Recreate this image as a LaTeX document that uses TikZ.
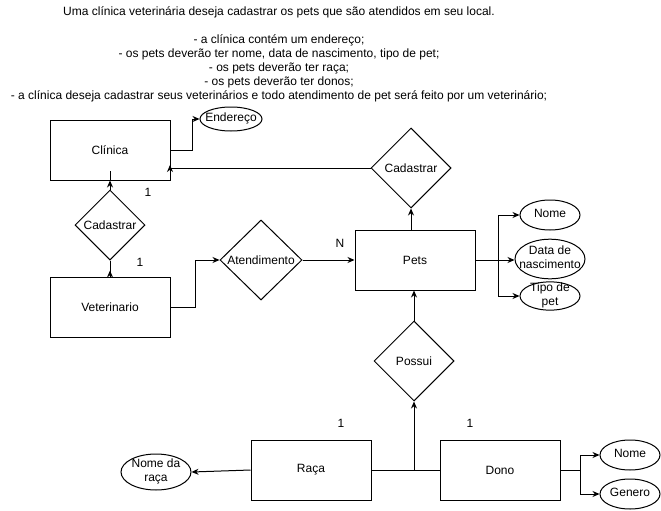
\documentclass[tikz,border=0pt]{standalone}
\usepackage{fontspec}
\setmainfont{Liberation Sans}
\usetikzlibrary{shapes.geometric,arrows.meta}
\tikzset{
	entidade/.style={draw, rectangle, minimum width=120pt, minimum height=60pt, inner sep=0pt},
	relacao/.style={draw, diamond, aspect=1, inner sep=0pt, minimum size=80pt},
	atributo/.style={draw, ellipse, inner sep=0pt, minimum width=60pt, minimum height=30pt},
	seta/.style={-{Stealth[length=7pt,width=6pt]}},
}
\newcommand{\attxt}[1]{\makebox[0pt]{\begin{tabular}{@{}c@{}}#1\end{tabular}}}
\begin{document}
\begin{tikzpicture}[x=1pt,y=-1pt,line width=1pt,every node/.style={font=\fontsize{12}{14}\selectfont}]
		\useasboundingbox (0,0) rectangle (661,511);
		\node[align=center](enun) at (279,54) {Uma clínica veterinária deseja cadastrar os pets que são atendidos em seu local.\\[14pt]
			- a clínica contém um endereço;\\
			- os pets deverão ter nome, data de nascimento, tipo de pet;\\
			- os pets deverão ter raça;\\
			- os pets deverão ter donos;\\
			- a clínica deseja cadastrar seus veterinários e todo atendimento de pet será feito por um veterinário;};
		% entidades
		\node[entidade](clin) at (110,150) {Clínica};
		\node[entidade](vet) at (110,307) {Veterinario};
		\node[entidade](pets) at (415,260) {Pets};
		\node[entidade](raca) at (311,470) {Raça};
		\node[entidade](dono) at (500,470) {Dono};
		% relacoes
		\node[relacao,minimum size=70pt](cad1) at (110,225) {Cadastrar};
		\node[relacao](cad2) at (411,168) {Cadastrar};
		\node[relacao,minimum width=82pt](aten) at (261,260) {Atendimento};
		\node[relacao](possui) at (414,361) {Possui};
		% atributos
		\node[atributo,minimum width=62pt,minimum height=24pt](ender) at (231,119) {\attxt{Endereço}};
		\node[atributo](pnome) at (550,215) {\attxt{Nome}};
		\node[atributo,minimum width=70pt,minimum height=39pt](pdata) at (550,259) {\attxt{Data de\\nascimento}};
		\node[atributo,minimum height=28pt,inner ysep=-4pt](ptipo) at (550,296) {\attxt{Tipo de\\pet}};
		\node[atributo,minimum width=70pt,minimum height=36pt,inner ysep=-1.5pt](nraca) at (156,472) {\attxt{Nome da\\raça}};
		\node[atributo](dnome) at (630,455) {\attxt{Nome}};
		\node[atributo](dgen) at (630,494) {\attxt{Genero}};
		% cardinalidades
		\node(c1) at (148,192) {1};
		\node(c2) at (140,262) {1};
		\node(cn) at (340,243) {N};
		\node(c3) at (341,423) {1};
		\node(c4) at (470,423) {1};
		\coordinate (clintip) at (170,165);
		\coordinate (juncao) at (raca.east -| possui.south);
		% ligacoes
		\draw[seta] (clin.east) -- ++(22,0) |- (ender.west);
		\draw[seta] (cad2.west) -| (clintip);
		\draw[seta] (cad1.north) -- (clin.south);
		\draw (clin.south) -- ++(0,-10);
		\draw (cad1.south) -- (vet.north);
		\draw[seta] (vet.north) -- ++(0,-6);
		\draw[seta] (vet.east) -- ++(25,0) |- (aten.west);
		\draw[seta] (aten.east) -- (pets.west);
		\draw[seta] (pets.north -| cad2.south) -- (cad2.south);
		\draw[seta] (pets.east) -- ++(23,0) |- (pnome.west);
		\draw[seta] (pets.east) -- (pdata.west |- pets.east);
		\draw[seta] (pets.east) -- ++(23,0) |- (ptipo.west);
		\draw[seta] (possui.north) -- (pets.south -| possui.north);
		\draw (raca.east) -- (dono.west);
		\draw[seta] (juncao) -- (possui.south);
		\draw[seta] (raca.west) -- (nraca.east);
		\draw[seta] (dono.east) -- ++(20,0) |- (dnome.west);
		\draw[seta] (dono.east) -- ++(20,0) |- (dgen.west);
	\end{tikzpicture}
\end{document}
